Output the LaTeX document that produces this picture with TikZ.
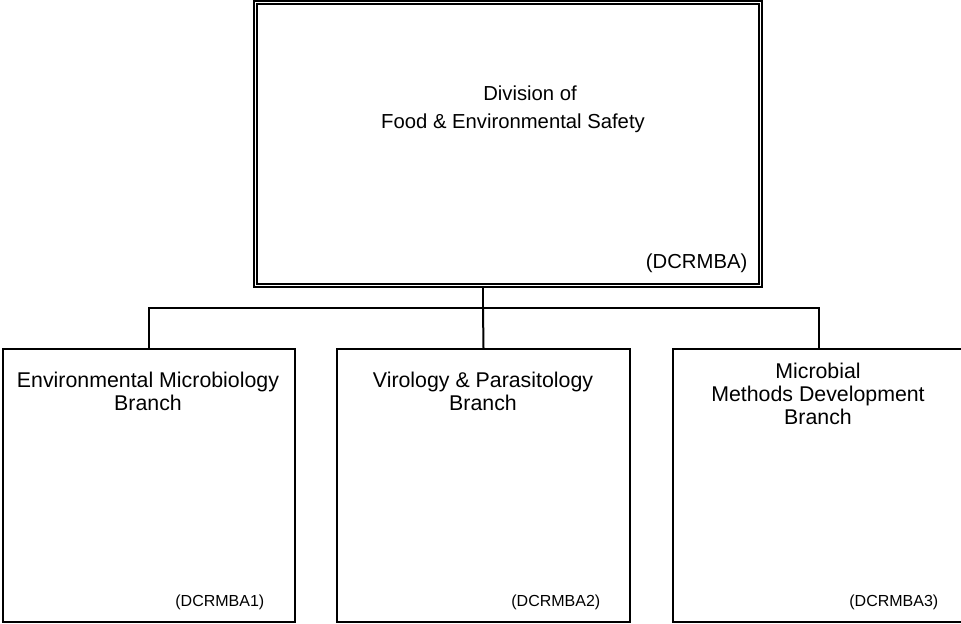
\documentclass[tikz,border=0pt]{standalone}
\usepackage{fontspec}
\setmainfont{Liberation Sans}
\usetikzlibrary{positioning}

\begin{document}
\begin{tikzpicture}[x=0.75pt,y=-0.75pt,
  box/.style={draw,line width=1.5pt,inner sep=0pt},
  bigtext/.style={font=\fontsize{15.2}{22.5}\selectfont},
  branchtext/.style={font=\fontsize{16}{17.25}\selectfont,align=center},
  codetext/.style={font=\fontsize{12}{14}\selectfont}]
\useasboundingbox (0,0) rectangle (961,624);
% division box
\node[draw,line width=0.9pt,minimum width=508*0.75pt,minimum height=286*0.75pt,inner sep=0pt]
  (A) at (508,144) {};
\draw[line width=1.6pt] ([shift={(4,4)}]A.north west) rectangle ([shift={(-4,-4)}]A.south east);
\node[bigtext] (T1) at (530,93) {Division of};
\node[bigtext] (T2) at (513,123) {Food \& Environmental Safety};
\node[bigtext,anchor=east] (TA) at (752,263) {(DCRMBA)};
% branch boxes
\node[box,minimum width=292*0.75pt,minimum height=273*0.75pt] (B) at (149,485.5) {};
\node[box,minimum width=293*0.75pt,minimum height=273*0.75pt] (C) at (483.5,485.5) {};
\node[box,minimum width=292*0.75pt,minimum height=273*0.75pt] (D) at (819,485.5) {};
\node[branchtext] (TB) at (148,391) {Environmental Microbiology\\Branch};
\node[branchtext] (TC) at (483,391) {Virology \& Parasitology\\Branch};
\node[branchtext] (TD) at (818,394) {Microbial\\Methods Development\\Branch};
\node[codetext,anchor=east] (TB1) at (269,602) {(DCRMBA1)};
\node[codetext,anchor=east] (TC1) at (605,602) {(DCRMBA2)};
\node[codetext,anchor=east] (TD1) at (943,602) {(DCRMBA3)};
% connectors
\coordinate (J) at (483,308);
\draw[line width=1.5pt] (A.south -| J) -- (J);
\draw[line width=1.5pt] (B.north) |- (J) -| (D.north);
\draw[line width=1.5pt] (J) -- (C.north);
\end{tikzpicture}
\end{document}
